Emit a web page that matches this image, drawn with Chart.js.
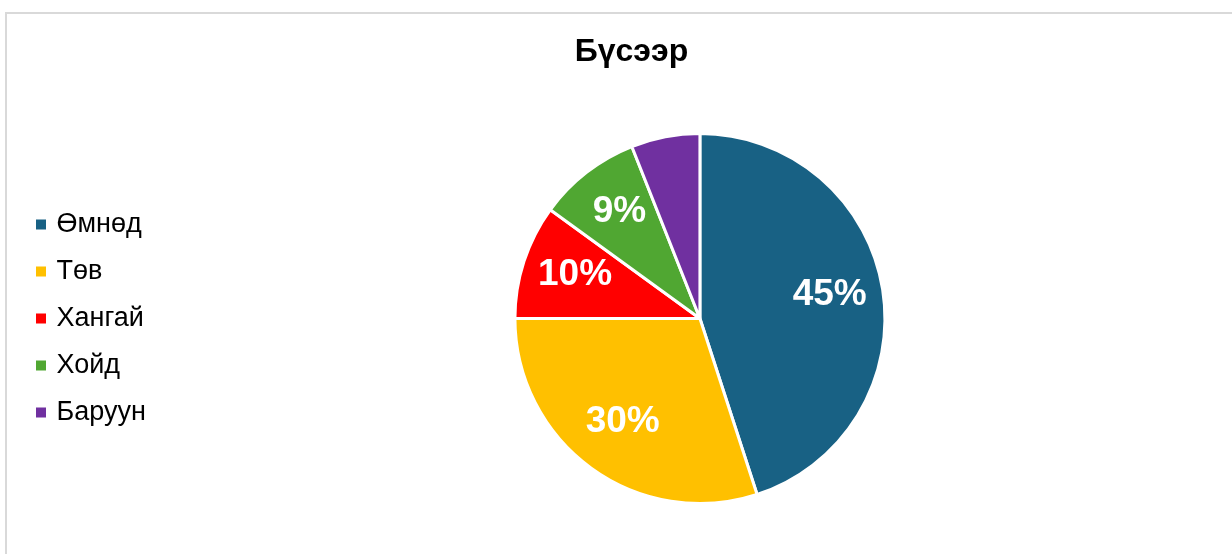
<!DOCTYPE html>
<html>
<head>
<meta charset="utf-8">
<script src="https://cdn.jsdelivr.net/npm/chart.js@4.4.0/dist/chart.umd.min.js"></script>
<style>
  html, body { margin: 0; padding: 0; background: #fff; overflow: hidden; width: 1232px; height: 554px; }
  #frame { position: absolute; left: 5px; top: 12px; width: 1400px; height: 700px;
           border-top: 2px solid #d9d9d9; border-left: 2px solid #d9d9d9; }
  #wrap { position: absolute; left: 7px; top: 13px; width: 1240px; height: 541px; }
</style>
</head>
<body>
<div id="frame"></div>
<div id="wrap"><canvas id="myChart" width="1240" height="541"></canvas></div>
<script>
var regions = ['Өмнөд', 'Төв', 'Хангай', 'Хойд', 'Баруун'];
var shares = [45, 30, 10, 9, 6];
var showLabel = [true, true, true, true, false];
var colors = ['#186184', '#FFC000', '#FF0000', '#50A732', '#7030A0'];

// white bold percent labels inside slices
const sliceLabels = {
    id: 'sliceLabels',
    afterDatasetsDraw: function(chart) {
        const ctx = chart.ctx;
        const meta = chart.getDatasetMeta(0);
        ctx.save();
        ctx.font = 'bold 37px "Liberation Sans", Arial, sans-serif';
        ctx.fillStyle = '#ffffff';
        ctx.textAlign = 'center';
        ctx.textBaseline = 'middle';
        meta.data.forEach(function(arc, i) {
            if (!showLabel[i]) return;
            const p = arc.getProps(['x', 'y', 'startAngle', 'endAngle', 'outerRadius']);
            const mid = (p.startAngle + p.endAngle) / 2;
            const r = p.outerRadius * 0.71;
            ctx.fillText(Math.round(shares[i]) + '%', p.x + Math.cos(mid) * r, p.y + Math.sin(mid) * r - 3);
        });
        ctx.restore();
    }
};

const ctx = document.getElementById('myChart').getContext('2d');
const myChart = new Chart(ctx, {
    type: 'pie',
    data: {
        labels: regions,
        datasets: [{
            data: shares,
            backgroundColor: colors,
            borderColor: '#ffffff',
            borderWidth: 3
        }]
    },
    plugins: [sliceLabels],
    options: {
        responsive: false,
        animation: false,
        layout: {
            padding: { left: 12, right: 3, top: 0, bottom: 49 }
        },
        plugins: {
            title: {
                display: true,
                text: 'Бүсээр',
                color: '#000000',
                font: { family: '"Liberation Sans", Arial, sans-serif', size: 32, weight: 'bold' },
                padding: { top: 20, bottom: 60.6 }
            },
            legend: {
                position: 'left',
                fullSize: false,
                labels: {
                    color: '#000000',
                    usePointStyle: true,
                    pointStyle: 'rect',
                    boxWidth: 4,
                    boxHeight: 10,
                    padding: 20,
                    font: { family: '"Liberation Sans", Arial, sans-serif', size: 27 },
                    generateLabels: function(chart) {
                        return Chart.controllers.pie.overrides.plugins.legend.labels.generateLabels(chart)
                            .map(function(item) { item.lineWidth = 0; return item; });
                    }
                }
            },
            tooltip: { enabled: false }
        }
    }
});
</script>
</body>
</html>
